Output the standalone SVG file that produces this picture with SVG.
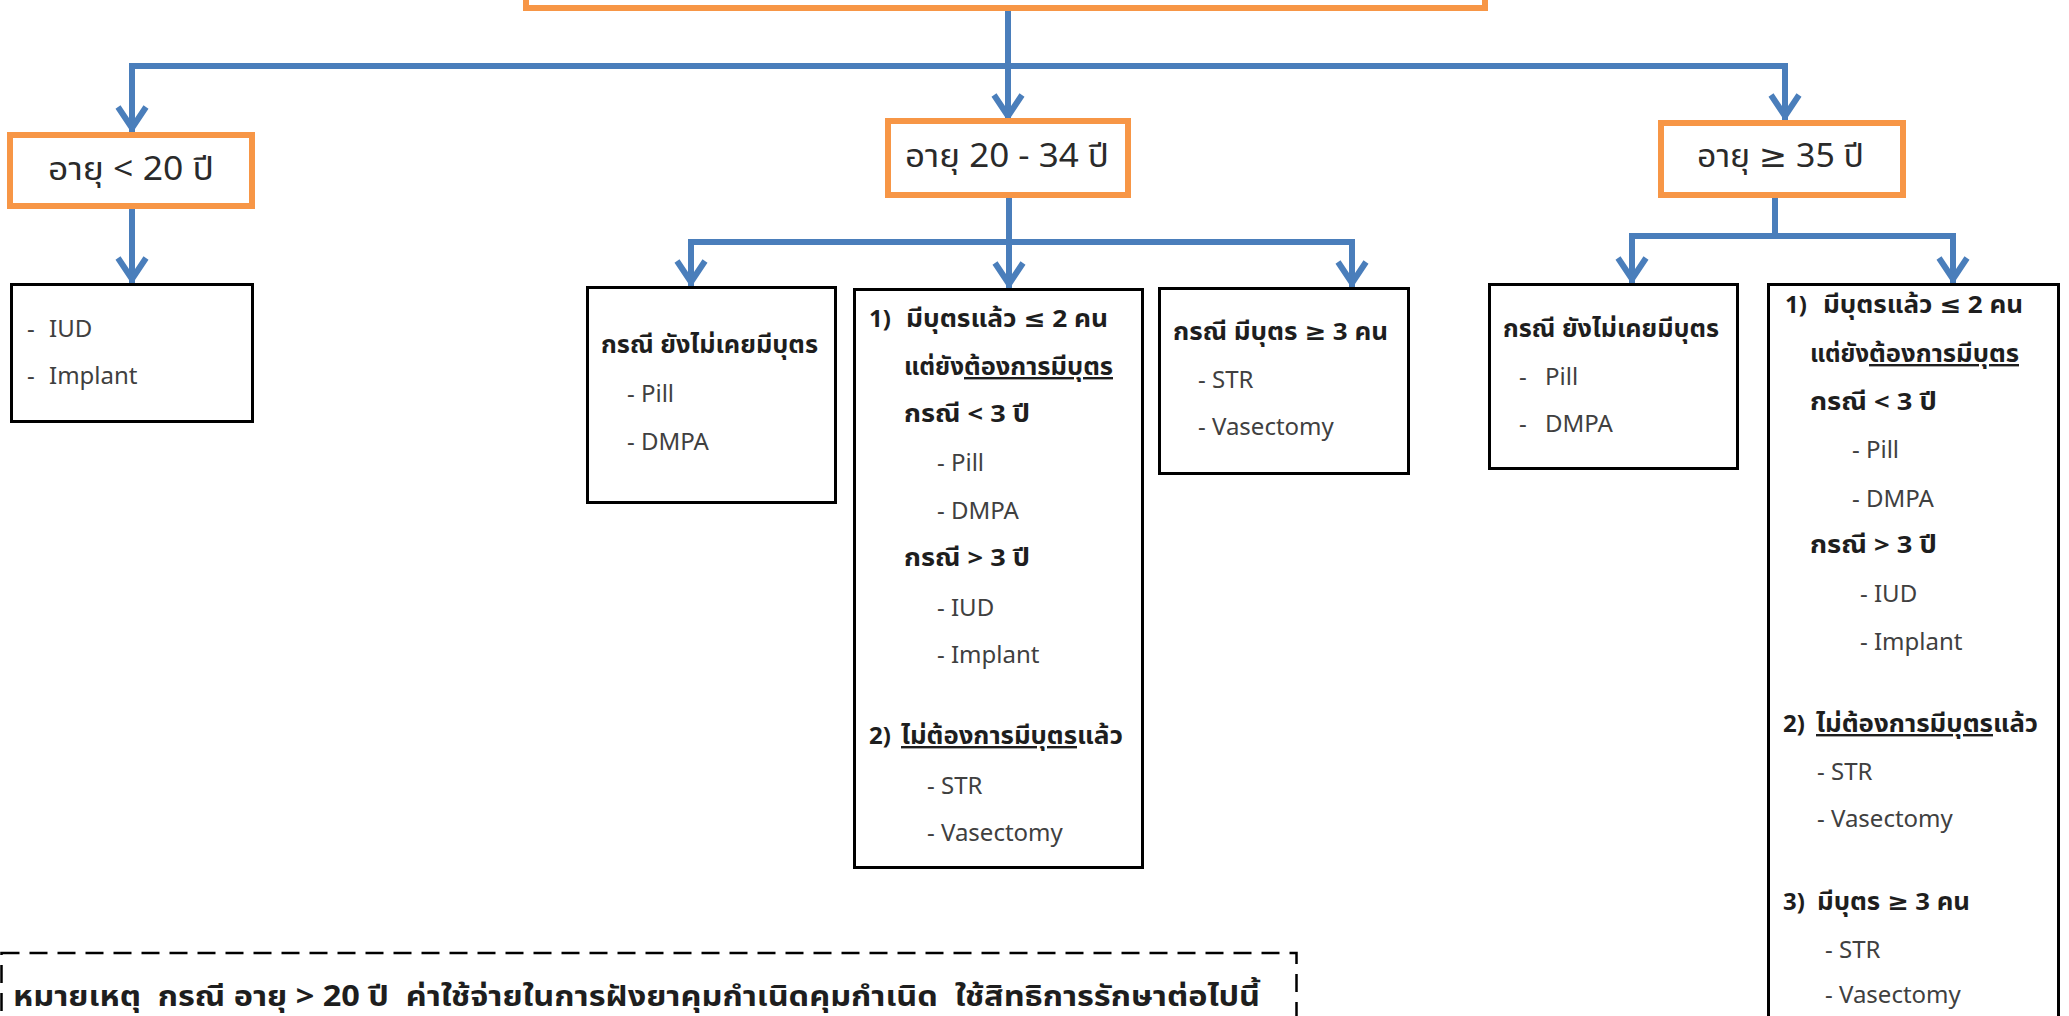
<svg xmlns="http://www.w3.org/2000/svg" width="2069" height="1016" viewBox="0 0 2069 1016">
<style>
text{font-family:"Noto Sans Thai","Noto Sans Thai UI","Leelawadee UI",Tahoma,"Noto Sans","DejaVu Sans",sans-serif;}
.lbl{font-size:32px;fill:#2a2a2a;}
.h{font-size:24px;font-weight:bold;fill:#1e1e1e;}
.it{font-size:24px;fill:#404040;}
.u{text-decoration:underline;}
.note{font-size:28px;font-weight:bold;fill:#1e1e1e;white-space:pre;}
.ob{fill:#fff;stroke:#F79646;stroke-width:6;}
.bb{fill:#fff;stroke:#000;stroke-width:3;}
.con{fill:none;stroke:#4A7EBB;stroke-width:6;stroke-linejoin:miter;marker-end:url(#arr);}
.dash{fill:none;stroke:#000;stroke-width:2.5;stroke-dasharray:18 10;}
</style>
<defs>
<marker id="arr" markerUnits="userSpaceOnUse" viewBox="-30 -20 36 40" refX="0" refY="0" markerWidth="36" markerHeight="40" orient="auto">
<path d="M-25 -14 L-4 0 L-25 14" fill="none" stroke="#4A7EBB" stroke-width="6" stroke-linejoin="miter"/>
</marker>
</defs>
<rect width="2069" height="1016" fill="#fff"/>

<g id="connectors">
<path class="con" d="M1008 8 V120"/>
<path class="con" d="M1008 66 H132 V132"/>
<path class="con" d="M1008 66 H1785 V120"/>
<path class="con" d="M132 208 V283"/>
<path class="con" d="M1009 197 V288"/>
<path class="con" d="M1009 242 H691 V286"/>
<path class="con" d="M1009 242 H1352 V287"/>
<path class="con" d="M1775 197 V236 H1632 V283"/>
<path class="con" d="M1775 236 H1953 V283"/>
</g>

<g id="root">
<rect class="ob" x="526" y="-60" width="959" height="68"/>
</g>

<g id="age-lt20">
<rect class="ob" x="10" y="135" width="242" height="71"/>
<text class="lbl" x="48" y="180" textLength="166" lengthAdjust="spacingAndGlyphs">อายุ &lt; 20 ปี</text>
</g>

<g id="age-20-34">
<rect class="ob" x="888" y="121" width="240" height="74"/>
<text class="lbl" x="905" y="167" textLength="204" lengthAdjust="spacingAndGlyphs">อายุ 20 - 34 ปี</text>
</g>

<g id="age-ge35">
<rect class="ob" x="1661" y="123" width="242" height="72"/>
<text class="lbl" x="1697" y="167" textLength="167" lengthAdjust="spacingAndGlyphs">อายุ ≥ 35 ปี</text>
</g>

<g id="lt20-methods">
<rect class="bb" x="11.5" y="284.5" width="241" height="137"/>
<text class="it" y="337"><tspan x="27">-</tspan><tspan x="49">IUD</tspan></text>
<text class="it" y="384"><tspan x="27">-</tspan><tspan x="49">Implant</tspan></text>
</g>

<g id="mid-nochild">
<rect class="bb" x="587.5" y="287.5" width="248" height="215"/>
<text class="h" x="601" y="353" textLength="217" lengthAdjust="spacingAndGlyphs">กรณี ยังไม่เคยมีบุตร</text>
<text class="it" x="627" y="402">- Pill</text>
<text class="it" x="627" y="450">- DMPA</text>
</g>

<g id="mid-children">
<rect class="bb" x="854.5" y="289.5" width="288" height="578"/>
<text class="h" x="869" y="327">1)</text>
<text class="h" x="906" y="327" textLength="202" lengthAdjust="spacingAndGlyphs">มีบุตรแล้ว ≤ 2 คน</text>
<text class="h" x="904" y="375" textLength="60" lengthAdjust="spacingAndGlyphs">แต่ยัง</text>
<text class="h u" x="964" y="375" textLength="149" lengthAdjust="spacingAndGlyphs">ต้องการมีบุตร</text>
<text class="h" x="904" y="422" textLength="126" lengthAdjust="spacingAndGlyphs">กรณี &lt; 3 ปี</text>
<text class="it" x="937" y="471">- Pill</text>
<text class="it" x="937" y="519">- DMPA</text>
<text class="h" x="904" y="566" textLength="126" lengthAdjust="spacingAndGlyphs">กรณี &gt; 3 ปี</text>
<text class="it" x="937" y="616">- IUD</text>
<text class="it" x="937" y="663">- Implant</text>
<text class="h" x="869" y="744">2)</text>
<text class="h u" x="901" y="744" textLength="176" lengthAdjust="spacingAndGlyphs">ไม่ต้องการมีบุตร</text>
<text class="h" x="1077" y="744" textLength="46" lengthAdjust="spacingAndGlyphs">แล้ว</text>
<text class="it" x="927" y="794">- STR</text>
<text class="it" x="927" y="841">- Vasectomy</text>
</g>

<g id="mid-3children">
<rect class="bb" x="1159.5" y="288.5" width="249" height="185"/>
<text class="h" x="1173" y="340" textLength="215" lengthAdjust="spacingAndGlyphs">กรณี มีบุตร ≥ 3 คน</text>
<text class="it" x="1198" y="388">- STR</text>
<text class="it" x="1198" y="435">- Vasectomy</text>
</g>

<g id="old-nochild">
<rect class="bb" x="1489.5" y="284.5" width="248" height="184"/>
<text class="h" x="1503" y="337" textLength="216" lengthAdjust="spacingAndGlyphs">กรณี ยังไม่เคยมีบุตร</text>
<text class="it" y="385"><tspan x="1519">-</tspan><tspan x="1545">Pill</tspan></text>
<text class="it" y="432"><tspan x="1519">-</tspan><tspan x="1545">DMPA</tspan></text>
</g>

<g id="old-children">
<rect class="bb" x="1768.5" y="284.5" width="290" height="760"/>
<text class="h" x="1785" y="313">1)</text>
<text class="h" x="1823" y="313" textLength="200" lengthAdjust="spacingAndGlyphs">มีบุตรแล้ว ≤ 2 คน</text>
<text class="h" x="1810" y="362" textLength="59" lengthAdjust="spacingAndGlyphs">แต่ยัง</text>
<text class="h u" x="1869" y="362" textLength="150" lengthAdjust="spacingAndGlyphs">ต้องการมีบุตร</text>
<text class="h" x="1810" y="410" textLength="127" lengthAdjust="spacingAndGlyphs">กรณี &lt; 3 ปี</text>
<text class="it" x="1852" y="458">- Pill</text>
<text class="it" x="1852" y="507">- DMPA</text>
<text class="h" x="1810" y="553" textLength="127" lengthAdjust="spacingAndGlyphs">กรณี &gt; 3 ปี</text>
<text class="it" x="1860" y="602">- IUD</text>
<text class="it" x="1860" y="650">- Implant</text>
<text class="h" x="1783" y="732">2)</text>
<text class="h u" x="1816" y="732" textLength="177" lengthAdjust="spacingAndGlyphs">ไม่ต้องการมีบุตร</text>
<text class="h" x="1993" y="732" textLength="45" lengthAdjust="spacingAndGlyphs">แล้ว</text>
<text class="it" x="1817" y="780">- STR</text>
<text class="it" x="1817" y="827">- Vasectomy</text>
<text class="h" x="1783" y="910">3)</text>
<text class="h" x="1817" y="910" textLength="153" lengthAdjust="spacingAndGlyphs">มีบุตร ≥ 3 คน</text>
<text class="it" x="1825" y="958">- STR</text>
<text class="it" x="1825" y="1003">- Vasectomy</text>
</g>

<g id="note">
<rect class="dash" x="1.5" y="953" width="1295" height="120"/>
<text class="note" x="13" y="1006" textLength="1247" lengthAdjust="spacingAndGlyphs" xml:space="preserve">หมายเหตุ  กรณี อายุ &gt; 20 ปี  ค่าใช้จ่ายในการฝังยาคุมกำเนิดคุมกำเนิด  ใช้สิทธิการรักษาต่อไปนี้</text>
</g>
</svg>
